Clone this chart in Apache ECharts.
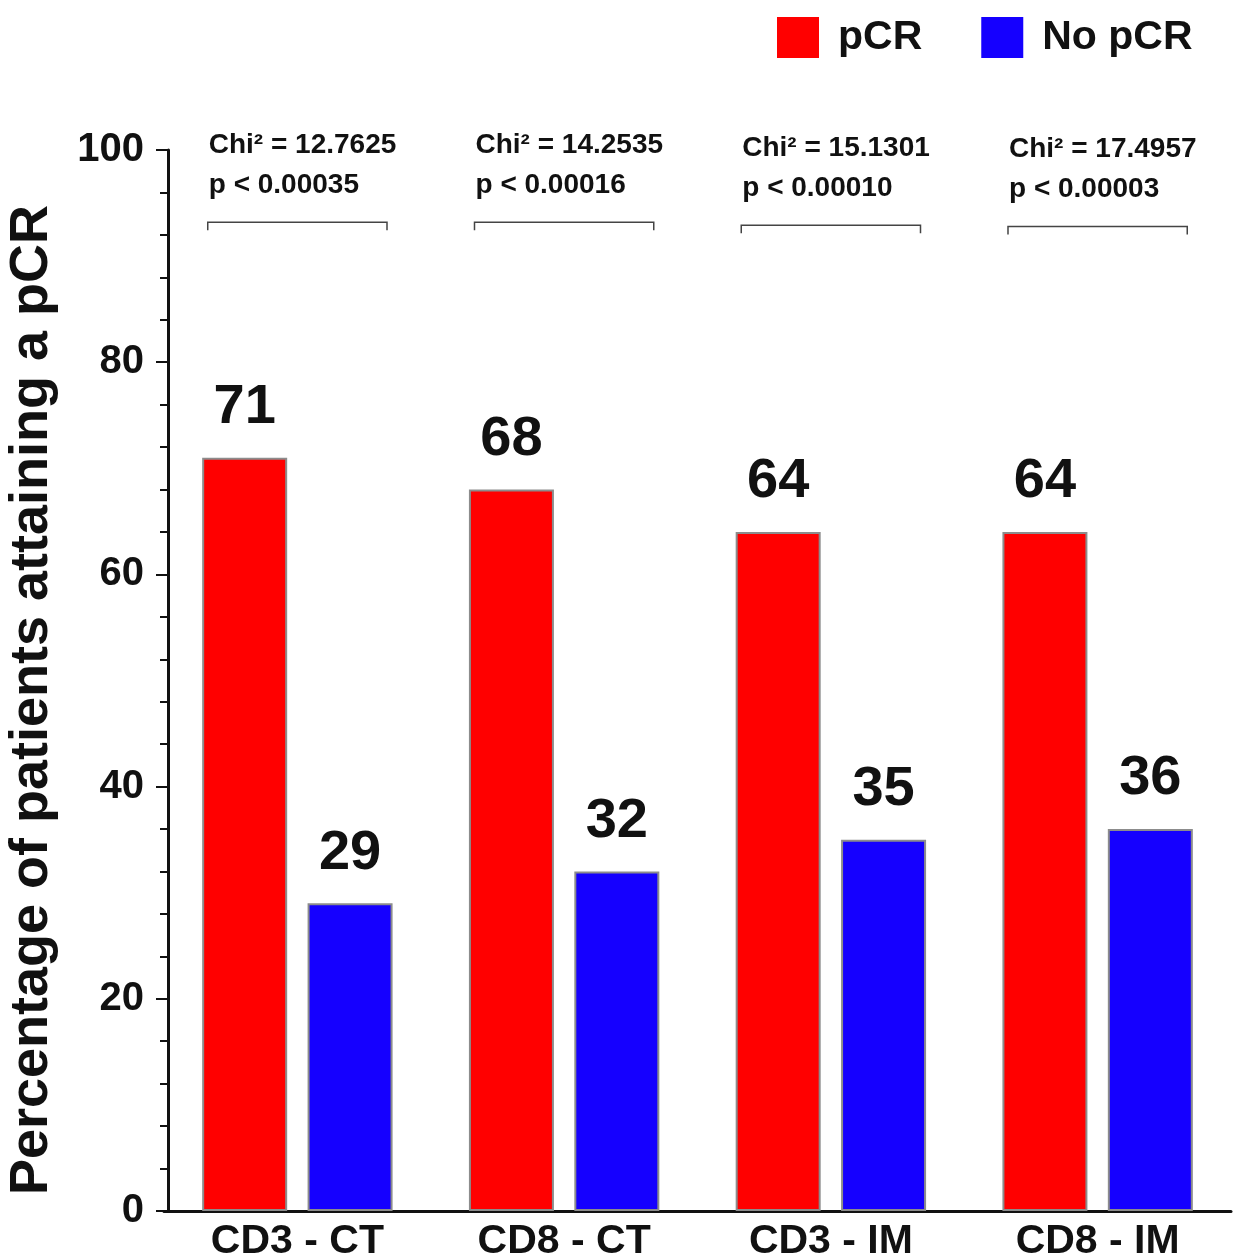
<!DOCTYPE html>
<html>
<head>
<meta charset="utf-8">
<script src="https://cdn.jsdelivr.net/npm/echarts@6/dist/echarts.min.js"></script>
<style>
html,body{margin:0;padding:0;background:#fff;}
#chart{width:1253px;height:1255px;}
</style>
</head>
<body>
<div id="chart"></div>
<script>
const categories = ['CD3 - CT', 'CD8 - CT', 'CD3 - IM', 'CD8 - IM'];
const pcrValues = [71, 68, 64, 64];
const noPcrValues = [29, 32, 35, 36];
const chiLabels = ['Chi\u00B2 = 12.7625', 'Chi\u00B2 = 14.2535', 'Chi\u00B2 = 15.1301', 'Chi\u00B2 = 17.4957'];
const pLabels = ['p < 0.00035', 'p < 0.00016', 'p < 0.00010', 'p < 0.00003'];
const bracketLevels = [93.2, 93.2, 92.9, 92.8];
const yTicks = { min: 0, max: 100, interval: 20 };

const FONT = "'Liberation Sans', Arial, sans-serif";
const chart = echarts.init(document.getElementById('chart'), null, { renderer: 'canvas' });

const bracketData = categories.map((c, i) => [i, bracketLevels[i]]);

const option = {
  backgroundColor: '#ffffff',
  animation: false,
  grid: { left: 164, right: 22, top: 150, bottom: 44, containLabel: false, outerBoundsMode: 'none' },
  legend: {
    left: 772, top: 12,
    itemWidth: 42, itemHeight: 41, itemGap: 59,
    icon: 'rect',
    itemStyle: { borderWidth: 0 },
    textStyle: { fontSize: 41, fontWeight: 'bold', fontFamily: FONT, color: '#111', padding: [0, 0, 0, 14] },
    data: ['pCR', 'No pCR']
  },
  graphic: [{
    type: 'text', x: 32, y: 700, rotation: Math.PI / 2,
    style: {
      text: 'Percentage of patients attaining a pCR',
      fontSize: 54, fontWeight: 'bold', fontFamily: FONT, fill: '#111',
      align: 'center', verticalAlign: 'middle'
    }
  }],
  xAxis: {
    type: 'category',
    data: categories,
    axisLine: { show: true, lineStyle: { color: '#111', width: 3 } },
    axisTick: { show: false },
    axisLabel: { fontSize: 41, fontWeight: 'bold', fontFamily: FONT, color: '#111', margin: 10 },
    splitLine: { show: false }
  },
  yAxis: {
    type: 'value',
    min: yTicks.min, max: yTicks.max, interval: yTicks.interval,
    offset: -4,
    axisLine: { show: true, lineStyle: { color: '#111', width: 3 } },
    axisTick: { show: true, length: 12, lineStyle: { color: '#111', width: 2 } },
    minorTick: { show: true, splitNumber: 5, length: 8, lineStyle: { color: '#111', width: 2 } },
    axisLabel: { fontSize: 40, fontWeight: 'bold', fontFamily: FONT, color: '#111', margin: 24, padding: [0, 0, 10, 0] },
    splitLine: { show: false }
  },
  series: [
    {
      name: 'pCR', type: 'bar', data: pcrValues,
      barWidth: 85, barGap: '24%',
      itemStyle: { color: '#ff0000', borderColor: '#8c8c8c', borderWidth: 2 },
      label: { show: true, position: 'top', distance: 22, fontSize: 56, fontWeight: 'bold', fontFamily: FONT, color: '#111' }
    },
    {
      name: 'No pCR', type: 'bar', data: noPcrValues,
      barWidth: 85, barGap: '24%',
      itemStyle: { color: '#1500ff', borderColor: '#8c8c8c', borderWidth: 2 },
      label: { show: true, position: 'top', distance: 22, fontSize: 56, fontWeight: 'bold', fontFamily: FONT, color: '#111' }
    },
    {
      name: 'stats', type: 'custom', silent: true, clip: false,
      data: bracketData,
      renderItem: function (params, api) {
        const i = params.dataIndex;
        const p = api.coord([api.value(0), api.value(1)]);
        const band = api.size([1, 0])[0];
        const half = band * 0.336;
        const l = p[0] - half, r = p[0] + half, y = p[1];
        const txt = (t, ty) => ({
          type: 'text',
          style: {
            text: t, x: l + 1, y: ty,
            fontSize: 28, fontWeight: 'bold', fontFamily: FONT, fill: '#111',
            align: 'left', verticalAlign: 'middle'
          }
        });
        return {
          type: 'group',
          children: [
            {
              type: 'polyline',
              shape: { points: [[l, y + 8], [l, y], [r, y], [r, y + 8]] },
              style: { stroke: '#444', lineWidth: 1.5, fill: null }
            },
            txt(chiLabels[i], y - 77),
            txt(pLabels[i], y - 37)
          ]
        };
      }
    }
  ]
};
chart.setOption(option);
</script>
</body>
</html>
